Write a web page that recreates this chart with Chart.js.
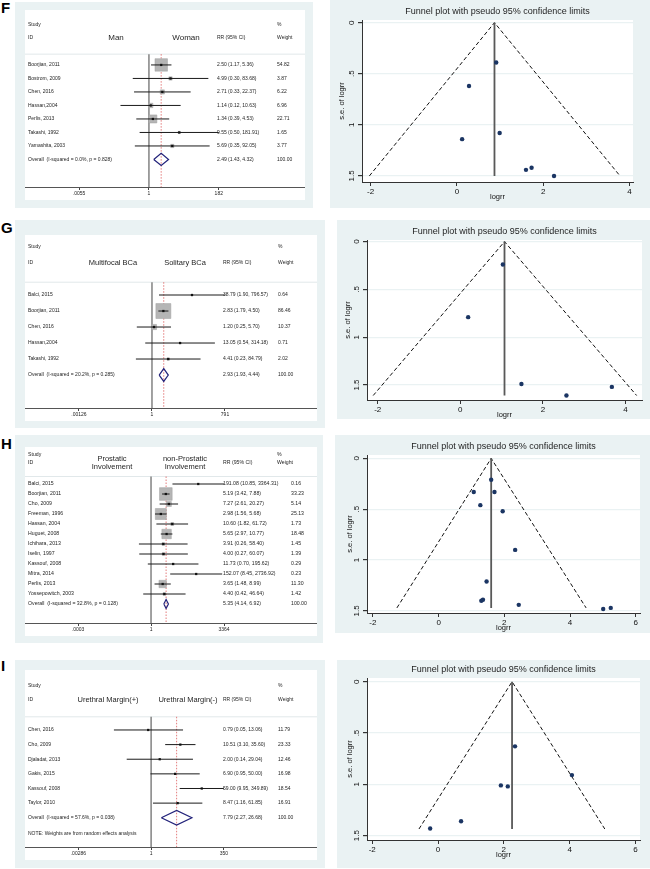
<!DOCTYPE html>
<html>
<head>
<meta charset="utf-8">
<title>Forest and funnel plots</title>
<script src="https://cdn.jsdelivr.net/npm/chart.js@4.4.1/dist/chart.umd.min.js"></script>
<style>
  html, body { margin: 0; padding: 0; background: #fff; }
  body { position: relative; width: 650px; height: 869px; overflow: hidden; font-family: "Liberation Sans", Arial, sans-serif; }
  .box { position: absolute; background: #eaf2f3; }
  .letter { position: absolute; left: 1px; font-weight: bold; font-size: 15px; line-height: 15px; color: #000; }
  canvas { position: absolute; }
  .forest { background: #fff; }
  .funnel { background: #eaf2f3; }
</style>
</head>
<body>

<div class="letter" style="top:0px">F</div>
<div class="box" style="left:15px;top:2px;width:298px;height:206px"></div>
<canvas id="forestF" class="forest" width="280" height="190" style="left:25px;top:10px"></canvas>
<canvas id="funnelF" class="funnel" width="320" height="208" style="left:330px;top:0px"></canvas>

<div class="letter" style="top:220px">G</div>
<div class="box" style="left:15px;top:220px;width:310px;height:208px"></div>
<canvas id="forestG" class="forest" width="292" height="186" style="left:25px;top:235px"></canvas>
<canvas id="funnelG" class="funnel" width="313" height="199" style="left:337px;top:220px"></canvas>

<div class="letter" style="top:436px">H</div>
<div class="box" style="left:15px;top:435px;width:308px;height:208px"></div>
<canvas id="forestH" class="forest" width="292" height="189" style="left:25px;top:447px"></canvas>
<canvas id="funnelH" class="funnel" width="315" height="198" style="left:335px;top:435px"></canvas>

<div class="letter" style="top:658px">I</div>
<div class="box" style="left:15px;top:660px;width:310px;height:208px"></div>
<canvas id="forestI" class="forest" width="292" height="190" style="left:25px;top:670px"></canvas>
<canvas id="funnelI" class="funnel" width="313" height="208" style="left:337px;top:660px"></canvas>

<script>
const FONT = '"Liberation Sans", Arial, Helvetica, sans-serif';
Chart.defaults.font.family = FONT;

// ---- F: Man vs Woman ----
const studiesF = ['Boorjian, 2011', 'Bostrom, 2009', 'Chen, 2016', 'Hassan,2004', 'Perlis, 2013', 'Takashi, 1992', 'Yamashita, 2003'];
const rrF = [2.50, 4.99, 2.71, 1.14, 1.34, 9.55, 5.69];
const loF = [1.17, 0.30, 0.33, 0.12, 0.39, 0.50, 0.35];
const hiF = [5.36, 83.68, 22.37, 10.63, 4.53, 181.91, 92.05];
const weightF = [54.82, 3.87, 6.22, 6.96, 22.71, 1.65, 3.77];
const overallF = [2.49, 1.43, 4.32];
const ticksF = [0.0055, 1, 182];
const tickLabelsF = ['.0055', '1', '182'];
const logrrF = [0.91, 0.28, 0.12, 0.99, 1.60, 1.73, 2.25];
const seF = [0.39, 0.62, 1.14, 1.08, 1.44, 1.42, 1.50];
const limitsF = [-2.03, 0.87, 3.78];
const seMaxF = 1.50;

// ---- G: Multifocal vs Solitary ----
const studiesG = ['Balci, 2015', 'Boorjian, 2011', 'Chen, 2016', 'Hassan,2004', 'Takashi, 1992'];
const rrG = [38.79, 2.83, 1.20, 13.05, 4.41];
const loG = [1.90, 1.79, 0.25, 0.54, 0.23];
const hiG = [796.57, 4.50, 5.70, 314.18, 84.79];
const weightG = [0.64, 86.46, 10.37, 0.71, 2.02];
const overallG = [2.93, 1.93, 4.44];
const ticksG = [0.00126, 1, 791];
const tickLabelsG = ['.00126', '1', '791'];
const logrrG = [1.03, 0.19, 1.48, 2.57, 3.67];
const seG = [0.24, 0.79, 1.49, 1.61, 1.52];
const limitsG = [-2.11, 1.07, 4.27];
const seMaxG = 1.61;

// ---- H: Prostatic involvement ----
const studiesH = ['Balci, 2015', 'Boorjian, 2011', 'Cho, 2009', 'Freeman, 1996', 'Hassan, 2004', 'Huguet, 2008',
  'Ichihara, 2013', 'Iselin, 1997', 'Kassouf, 2008', 'Mitra, 2014', 'Perlis, 2013', 'Yossepowitch, 2003'];
const rrH = [191.08, 5.19, 7.27, 2.98, 10.60, 5.65, 3.91, 4.00, 11.73, 152.07, 3.65, 4.40];
const loH = [10.85, 3.42, 2.61, 1.56, 1.82, 2.97, 0.26, 0.27, 0.70, 8.45, 1.48, 0.42];
const hiH = [3364.31, 7.88, 20.27, 5.68, 61.72, 10.77, 58.40, 60.07, 195.62, 2736.92, 8.99, 46.64];
const weightH = [0.16, 33.23, 5.14, 25.13, 1.73, 18.48, 1.45, 1.39, 0.29, 0.23, 11.30, 1.42];
const overallH = [5.35, 4.14, 6.92];
const ticksH = [0.0003, 1, 3364];
const tickLabelsH = ['.0003', '1', '3364'];
const logrrH = [1.60, 1.07, 1.70, 1.27, 1.95, 2.33, 1.46, 1.35, 1.30, 2.44, 5.01, 5.24];
const seH = [0.21, 0.33, 0.33, 0.46, 0.52, 0.90, 1.21, 1.39, 1.40, 1.44, 1.48, 1.47];
const limitsH = [-1.27, 1.60, 4.49];
const seMaxH = 1.47;

// ---- I: Urethral margin ----
const studiesI = ['Chen, 2016', 'Cho, 2009', 'Djaladat, 2013', 'Gakis, 2015', 'Kassouf, 2008', 'Taylor, 2010'];
const rrI = [0.79, 10.51, 2.00, 6.90, 59.00, 8.47];
const loI = [0.05, 3.10, 0.14, 0.95, 9.95, 1.16];
const hiI = [13.06, 35.60, 29.04, 50.00, 349.89, 61.85];
const weightI = [11.79, 23.33, 12.46, 16.98, 18.54, 16.91];
const overallI = [7.79, 2.27, 26.68];
const ticksI = [0.00286, 1, 350];
const tickLabelsI = ['.00286', '1', '350'];
const logrrI = [2.34, 4.07, 1.91, 2.12, 0.70, -0.24];
const seI = [0.63, 0.91, 1.01, 1.02, 1.36, 1.43];
const limitsI = [-0.58, 2.25, 5.07];
const seMaxI = 1.435;

const funnelTicks4 = [-2, 0, 2, 4];
const funnelTicks6 = [-2, 0, 2, 4, 6];
const seTicks = [0, 0.5, 1, 1.5];
const seTickLabels = ['0', '.5', '1', '1.5'];

function ciText(rr, lo, hi) {
  return rr.toFixed(2) + ' (' + lo.toFixed(2) + ', ' + hi.toFixed(2) + ')';
}

function vline(ctx, x, y0, y1) {
  ctx.beginPath(); ctx.moveTo(x, y0); ctx.lineTo(x, y1); ctx.stroke();
}

// forest plot: text columns and reference lines, drawn on the chart's scales
function forestPlugin(cfg) {
  return {
    id: 'forestText',
    beforeDatasetsDraw(chart) {
      const { ctx, chartArea: a, scales: { x, y } } = chart;
      const top = y.getPixelForValue(cfg.sepRow);
      ctx.save();
      ctx.strokeStyle = '#e1e8ea';
      ctx.lineWidth = 1;
      ctx.beginPath(); ctx.moveTo(a.left, top); ctx.lineTo(a.right, top); ctx.stroke();
      ctx.strokeStyle = '#8a8a8a';
      ctx.lineWidth = 1.6;
      vline(ctx, x.getPixelForValue(1), top, a.bottom);
      ctx.strokeStyle = '#dd5a5a';
      ctx.lineWidth = 0.8;
      ctx.setLineDash([1.5, 1.5]);
      vline(ctx, x.getPixelForValue(cfg.overall[0]), top, a.bottom);
      ctx.restore();
    },
    afterDatasetsDraw(chart) {
      const { ctx, chartArea: a, scales: { y } } = chart;
      const put = (t, px, row, align) => {
        ctx.textAlign = align || 'left';
        ctx.fillText(t, a.left + px, y.getPixelForValue(row));
      };
      const n = cfg.studies.length;
      const wv = cfg.wValX || cfg.wX;
      ctx.save();
      ctx.fillStyle = '#1e1e1e';
      ctx.textBaseline = 'middle';
      ctx.font = cfg.textSize + 'px ' + FONT;
      put('Study', 3, cfg.headRows[0]);
      put('ID', 3, cfg.headRows[1]);
      put('RR (95% CI)', cfg.ciX, cfg.headRows[1]);
      put('%', cfg.wX, cfg.headRows[0]);
      put('Weight', cfg.wX, cfg.headRows[1]);
      cfg.studies.forEach((s, i) => {
        put(s, 3, i);
        put(ciText(cfg.rr[i], cfg.lo[i], cfg.hi[i]), cfg.ciX, i);
        put(cfg.weight[i].toFixed(2), wv, i);
      });
      put(cfg.overallLabel, 3, n);
      put(ciText(cfg.overall[0], cfg.overall[1], cfg.overall[2]), cfg.ciX, n);
      put('100.00', wv, n);
      if (cfg.note) put(cfg.note, 3, cfg.noteRow);
      ctx.font = cfg.groupSize + 'px ' + FONT;
      cfg.groups.forEach(g => g.lines.forEach((t, k) => put(t, g.x, g.rows[k], 'center')));
      ctx.restore();
    }
  };
}

function forestChart(id, cfg) {
  const n = cfg.studies.length;
  const datasets = [];
  if (cfg.boxScale) {
    datasets.push({
      data: cfg.rr.map((v, i) => ({ x: v, y: i })),
      pointStyle: 'rect',
      pointRadius: c => cfg.boxScale * Math.sqrt(cfg.weight[c.dataIndex]) / Math.SQRT2,
      backgroundColor: '#b5b5b5',
      borderColor: '#a0a0a0',
      borderWidth: 0.5,
      order: 4
    });
  }
  cfg.lo.forEach((lo, i) => datasets.push({
    data: [{ x: lo, y: i }, { x: cfg.hi[i], y: i }],
    showLine: true, pointRadius: 0, borderColor: '#1a1a1a', borderWidth: 1, order: 3
  }));
  datasets.push({
    data: cfg.rr.map((v, i) => ({ x: v, y: i })),
    pointStyle: 'rect', pointRadius: 1.6, backgroundColor: '#111', borderWidth: 0, order: 2
  });
  const [est, lo, hi] = cfg.overall;
  const h = cfg.diamond;
  datasets.push({
    data: [{ x: lo, y: n }, { x: est, y: n - h }, { x: hi, y: n }, { x: est, y: n + h }, { x: lo, y: n }],
    showLine: true, pointRadius: 0, borderColor: '#22227a', borderWidth: 1.2, order: 1
  });

  new Chart(document.getElementById(id), {
    type: 'scatter',
    data: { datasets },
    plugins: [forestPlugin(cfg)],
    options: {
      responsive: false,
      animation: false,
      layout: { padding: 0, autoPadding: false },
      plugins: { legend: { display: false }, tooltip: { enabled: false } },
      scales: {
        x: {
          type: 'logarithmic',
          bounds: 'data',
          min: Math.pow(10, cfg.logRange[0]),
          max: Math.pow(10, cfg.logRange[1]),
          afterBuildTicks: s => { s.ticks = cfg.ticks.map(v => ({ value: v })); },
          afterFit: s => { s.height = 13; },
          grid: { drawOnChartArea: false, tickLength: 3, tickColor: '#444' },
          border: { color: '#555', width: 1 },
          ticks: { font: { size: 5 }, color: '#222', padding: 1, autoSkip: false, maxRotation: 0,
                   callback: (v, i) => cfg.tickLabels[i] }
        },
        y: { type: 'linear', display: false, reverse: true, bounds: 'data', min: cfg.rowRange[0], max: cfg.rowRange[1] }
      }
    }
  });
}

function funnelChart(id, cfg) {
  const plotBg = {
    id: 'plotBg',
    beforeDraw(chart) {
      const { ctx, chartArea: a } = chart;
      ctx.save();
      ctx.fillStyle = '#fff';
      ctx.fillRect(a.left, a.top, a.right - a.left, a.bottom - a.top);
      ctx.restore();
    },
    afterDraw(chart) {
      const { ctx, chartArea: a } = chart;
      ctx.save();
      ctx.fillStyle = '#1e1e1e';
      ctx.font = '9px ' + FONT;
      ctx.textAlign = 'center';
      ctx.textBaseline = 'middle';
      ctx.fillText('Funnel plot with pseudo 95% confidence limits', (a.left + a.right) / 2, a.top - 8);
      ctx.restore();
    }
  };
  const [left, theta, right] = cfg.limits;
  new Chart(document.getElementById(id), {
    type: 'scatter',
    data: {
      datasets: [
        { data: cfg.logrr.map((v, i) => ({ x: v, y: cfg.se[i] })),
          pointRadius: 2.2, backgroundColor: '#1b3563', borderWidth: 0, order: 1 },
        { data: [{ x: left, y: cfg.seMax }, { x: theta, y: 0 }, { x: right, y: cfg.seMax }],
          showLine: true, pointRadius: 0, borderColor: '#111', borderWidth: 1, borderDash: [4, 2.5], order: 3 },
        { data: [{ x: theta, y: 0 }, { x: theta, y: cfg.seMax }],
          showLine: true, pointRadius: 0, borderColor: '#595959', borderWidth: 1.8, order: 2 }
      ]
    },
    plugins: [plotBg],
    options: {
      responsive: false,
      animation: false,
      layout: { padding: { left: 0, right: cfg.pad[1], top: cfg.pad[0], bottom: cfg.pad[2] }, autoPadding: false },
      plugins: { legend: { display: false }, tooltip: { enabled: false } },
      scales: {
        x: {
          type: 'linear', bounds: 'data', min: cfg.xRange[0], max: cfg.xRange[1],
          afterBuildTicks: s => { s.ticks = cfg.xTicks.map(v => ({ value: v })); },
          afterFit: s => { s.height = 19; },
          grid: { drawOnChartArea: false, tickLength: 4, tickColor: '#333' },
          border: { color: '#333', width: 1 },
          ticks: { font: { size: 8 }, color: '#111', padding: 1, autoSkip: false, maxRotation: 0 },
          title: { display: true, text: 'logrr', font: { size: 7.5 }, color: '#111', padding: 0 }
        },
        y: {
          type: 'linear', reverse: true, bounds: 'data', min: cfg.yRange[0], max: cfg.yRange[1],
          afterBuildTicks: s => { s.ticks = seTicks.map(v => ({ value: v })); },
          afterFit: s => { s.width = cfg.axisW; },
          grid: { color: '#eaf2f3', lineWidth: 1.2, tickLength: 4, tickColor: '#333' },
          border: { color: '#333', width: 1 },
          ticks: { font: { size: 8 }, color: '#111', padding: 1, autoSkip: false,
                   minRotation: 90, maxRotation: 90, crossAlign: 'center',
                   callback: (v, i) => seTickLabels[i] },
          title: { display: true, text: 's.e. of logrr', font: { size: 7.5 }, color: '#111',
                   padding: { top: cfg.titlePad, bottom: 0 } }
        }
      }
    }
  });
}

// 1. Forest plots
forestChart('forestF', {
  studies: studiesF, rr: rrF, lo: loF, hi: hiF, weight: weightF, overall: overallF,
  overallLabel: 'Overall  (I-squared = 0.0%, p = 0.828)',
  ticks: ticksF, tickLabels: tickLabelsF,
  logRange: [-4.01, 5.05], rowRange: [-4.07, 9.04],
  headRows: [-3, -2], sepRow: -0.8, ciX: 192, wX: 252, boxScale: 1.69, diamond: 0.45,
  textSize: 5, groupSize: 8, groups: [{ x: 91, lines: ['Man'], rows: [-2] }, { x: 161, lines: ['Woman'], rows: [-2] }]
});

forestChart('forestG', {
  studies: studiesG, rr: rrG, lo: loG, hi: hiG, weight: weightG, overall: overallG,
  overallLabel: 'Overall  (I-squared = 20.2%, p = 0.285)',
  ticks: ticksG, tickLabels: tickLabelsG,
  logRange: [-5.04, 6.55], rowRange: [-3.75, 7.06],
  headRows: [-3, -2], sepRow: -0.8, ciX: 198, wX: 253, boxScale: 1.61, diamond: 0.4,
  textSize: 5, groupSize: 7.5, groups: [{ x: 88, lines: ['Multifocal BCa'], rows: [-2] }, { x: 160, lines: ['Solitary BCa'], rows: [-2] }]
});

forestChart('forestH', {
  studies: studiesH, rr: rrH, lo: loH, hi: hiH, weight: weightH, overall: overallH,
  overallLabel: 'Overall  (I-squared = 32.8%, p = 0.128)',
  ticks: ticksH, tickLabels: tickLabelsH,
  logRange: [-6.09, 8.02], rowRange: [-3.7, 13.9],
  headRows: [-2.95, -2.1], sepRow: -0.75, ciX: 198, wX: 252, wValX: 266, boxScale: 2.2, diamond: 0.45,
  textSize: 5.2, groupSize: 7.5, groups: [
    { x: 87, lines: ['Prostatic', 'Involvement'], rows: [-2.5, -1.75] },
    { x: 160, lines: ['non-Prostatic', 'Involvement'], rows: [-2.5, -1.75] }
  ]
});

forestChart('forestI', {
  studies: studiesI, rr: rrI, lo: loI, hi: hiI, weight: weightI, overall: overallI,
  overallLabel: 'Overall  (I-squared = 57.6%, p = 0.038)',
  ticks: ticksI, tickLabels: tickLabelsI,
  logRange: [-4.41, 5.80], rowRange: [-4.1, 8.0],
  headRows: [-3.05, -2.05], sepRow: -0.9, ciX: 198, wX: 253, boxScale: 0, diamond: 0.5,
  note: 'NOTE: Weights are from random effects analysis', noteRow: 7.1,
  textSize: 5, groupSize: 7.5, groups: [{ x: 83, lines: ['Urethral Margin(+)'], rows: [-2.05] }, { x: 163, lines: ['Urethral Margin(-)'], rows: [-2.05] }]
});

// 2. Funnel plots
funnelChart('funnelF', { logrr: logrrF, se: seF, limits: limitsF, seMax: seMaxF,
  xTicks: funnelTicks4, xRange: [-2.2, 4.08], yRange: [-0.026, 1.559],
  axisW: 32, pad: [20, 17, 7], titlePad: 7.5 });

funnelChart('funnelG', { logrr: logrrG, se: seG, limits: limitsG, seMax: seMaxG,
  xTicks: funnelTicks4, xRange: [-2.26, 4.40], yRange: [-0.017, 1.657],
  axisW: 30, pad: [20, 8, 0], titlePad: 6.5 });

funnelChart('funnelH', { logrr: logrrH, se: seH, limits: limitsH, seMax: seMaxH,
  xTicks: funnelTicks6, xRange: [-2.18, 6.13], yRange: [-0.033, 1.52],
  axisW: 32, pad: [20, 10, 1], titlePad: 10.5 });

funnelChart('funnelI', { logrr: logrrI, se: seI, limits: limitsI, seMax: seMaxI,
  xTicks: funnelTicks6, xRange: [-2.16, 6.14], yRange: [-0.036, 1.542],
  axisW: 30, pad: [18, 10, 9], titlePad: 8.5 });
</script>
</body>
</html>
